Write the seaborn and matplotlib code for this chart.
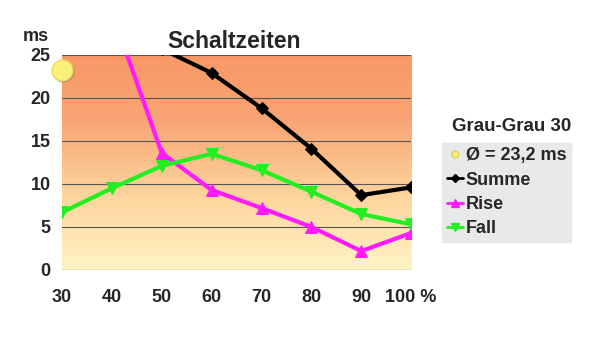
import numpy as np
import pandas as pd
import seaborn as sns
from matplotlib import pyplot as plt
from matplotlib.colors import LinearSegmentedColormap
from matplotlib.lines import Line2D

# Schaltzeiten Grau-Grau 30 (ms)
stufen = [30, 40, 50, 60, 70, 80, 90, 100]
rise = [39.6, 30.0, 13.6, 9.3, 7.2, 5.0, 2.2, 4.3]
fall = [6.7, 9.5, 12.1, 13.5, 11.6, 9.1, 6.5, 5.3]
summe = [46.3, 39.5, 25.7, 22.9, 18.8, 14.1, 8.7, 9.6]
mittel = 23.2
x_labels = ['30', '40', '50', '60', '70', '80', '90', '100 %']

df = pd.DataFrame({'Stufe': stufen, 'Summe': summe, 'Rise': rise, 'Fall': fall})

sns.set_style('white')
plt.rcParams['font.family'] = ['Liberation Sans', 'DejaVu Sans']
plt.rcParams['font.weight'] = 'bold'

fig = plt.figure(figsize=(6, 3.52), dpi=100)
ax = fig.add_axes([0.1033, 0.233, 0.582, 0.611])

# hintergrund: orange oben, hellgelb unten
cmap = LinearSegmentedColormap.from_list(
    'bg', [(0, '#fff4c4'), (0.35, '#fdd49c'), (0.7, '#f9a474'), (1, '#f89866')])
grad = np.linspace(0, 1, 256).reshape(-1, 1)
ax.imshow(grad, cmap=cmap, origin='lower', aspect='auto',
          extent=[30, 100, 0, 25], zorder=0)

for yv in [5, 10, 15, 20, 25]:
    ax.axhline(yv, color='#555555', lw=0.8, zorder=1)
ax.axhline(0, color='#888888', lw=1.0, zorder=1)

sns.lineplot(data=df, x='Stufe', y='Summe', ax=ax, color='black', lw=3,
             marker='D', markersize=6, markeredgecolor='black', zorder=3)
sns.lineplot(data=df, x='Stufe', y='Rise', ax=ax, color='#ff1aff', lw=3,
             marker='^', markersize=8, markeredgecolor='#ff1aff', zorder=3)
sns.lineplot(data=df, x='Stufe', y='Fall', ax=ax, color='#22ee22', lw=3,
             marker='v', markersize=8, markeredgecolor='#22ee22', zorder=4)

# mittelwert-punkt am linken rand
ax.plot([stufen[0] + 0.3], [mittel - 0.1], 'o', color='#8a8a60', markersize=15,
        clip_on=False, zorder=5, alpha=0.6)
ax.plot([stufen[0]], [mittel], 'o', color='#fbf07a', markersize=15,
        markeredgecolor='#e8dc60', clip_on=False, zorder=6)

ax.set_xlim(30, 100)
ax.set_ylim(0, 25)
ax.set_xticks(stufen)
ax.set_xticklabels(x_labels)
ax.set_yticks([0, 5, 10, 15, 20, 25])
ax.tick_params(axis='x', length=0, labelsize=13, pad=14)
ax.tick_params(axis='y', length=0, labelsize=13, pad=8)
ax.set_xlabel('')
ax.set_ylabel('')
sns.despine(ax=ax, left=True, bottom=True, top=True, right=True)

fig.text(0.06, 0.884, 'ms', fontsize=13, fontweight='bold', ha='center')
fig.text(0.391, 0.863, 'Schaltzeiten', fontsize=16.5, fontweight='bold', ha='center')
fig.text(0.852, 0.627, 'Grau-Grau 30', fontsize=13.5, fontweight='bold', ha='center')

handles = [
    Line2D([], [], ls='none', marker='o', color='#fbf07a', markeredgecolor='#e0d060', markersize=5),
    Line2D([], [], color='black', lw=2, marker='D', markersize=4),
    Line2D([], [], color='#ff1aff', lw=2, marker='^', markersize=6),
    Line2D([], [], color='#22ee22', lw=2, marker='v', markersize=6),
]
labels = ['Ø = 23,2 ms', 'Summe', 'Rise', 'Fall']
leg = fig.legend(handles, labels, loc='upper left', bbox_to_anchor=(0.737, 0.594),
                 frameon=True, fancybox=False, fontsize=13, handlelength=0.9,
                 handletextpad=0.15, labelspacing=0.4, borderpad=0.25,
                 borderaxespad=0)
leg.get_frame().set_facecolor('#e4e4e4')
leg.get_frame().set_edgecolor('#e4e4e4')
for t in leg.get_texts():
    t.set_fontweight('bold')

fig.savefig('out.png', dpi=100, facecolor='white')
